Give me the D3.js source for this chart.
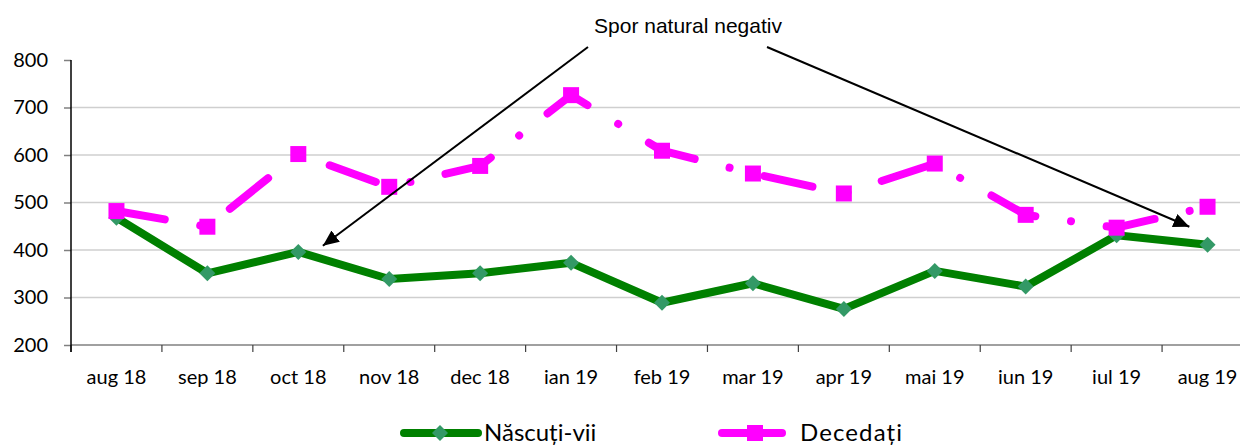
<!DOCTYPE html>
<html>
<head>
<meta charset="utf-8">
<script src="https://cdn.jsdelivr.net/npm/d3@7"></script>
<style>
    body { margin: 0; background: #fff; }
    svg { display: block; }
</style>
</head>
<body>
<div id="chart"></div>
<script>
(function () {
    "use strict";

    // chart data
    const months = ["aug 18", "sep 18", "oct 18", "nov 18", "dec 18", "ian 19", "feb 19",
        "mar 19", "apr 19", "mai 19", "iun 19", "iul 19", "aug 19"];
    const nascutiVii = [468, 351, 396, 339, 351, 373, 289, 330, 276, 356, 323, 431, 411];
    const decedati = [482, 449, 602, 533, 577, 726, 609, 561, 519, 582, 474, 447, 491];
    const yTicks = [200, 300, 400, 500, 600, 700, 800];
    const seriesNames = ["Născuți-vii", "Decedați"];
    const annotationText = "Spor natural negativ";

    const GREEN = "#008000";
    const GREEN_MARKER = "#339966";
    const PINK = "#ff00ff";
    const LABEL_FONT = "Lato, 'Open Sans', sans-serif";

    const width = 1240, height = 445;
    const plot = { left: 71, right: 1253, top: 60, bottom: 345 };

    let svg = d3.select("#chart").append("svg")
        .attr("width", width).attr("height", height);

    let x = d3.scaleBand().domain(months).range([plot.left, plot.right]);
    let y = d3.scaleLinear().domain([200, 800]).range([plot.bottom, plot.top]);
    let cx = m => x(m) + x.bandwidth() / 2;

    // gridlines
    svg.append("g")
        .selectAll("line")
        .data(yTicks.filter(t => t > 200 && t < 800))
        .enter().append("line")
        .attr("x1", plot.left).attr("x2", width)
        .attr("y1", d => y(d)).attr("y2", d => y(d))
        .attr("stroke", "#cfcfcf").attr("stroke-width", 1.5);

    // y axis
    let yAxis = svg.append("g")
        .attr("transform", `translate(${plot.left},0)`)
        .call(d3.axisLeft(y).tickValues(yTicks).tickSize(7).tickPadding(16));
    yAxis.select(".domain").remove();
    yAxis.selectAll(".tick line").attr("stroke", "#808080").attr("stroke-width", 1.5);
    yAxis.selectAll("text")
        .attr("font-family", LABEL_FONT)
        .attr("font-size", 20).attr("fill", "#000");

    // x axis: labels at centres, ticks at band edges
    let xAxis = svg.append("g")
        .attr("transform", `translate(0,${plot.bottom})`)
        .call(d3.axisBottom(x).tickSize(0));
    xAxis.select(".domain").remove();
    xAxis.selectAll("text")
        .attr("dy", null).attr("y", 39)
        .attr("font-family", LABEL_FONT)
        .attr("font-size", 20).attr("fill", "#000");

    svg.append("line")
        .attr("x1", plot.left).attr("x2", width)
        .attr("y1", plot.bottom).attr("y2", plot.bottom)
        .attr("stroke", "#808080").attr("stroke-width", 1.5);

    svg.append("g")
        .selectAll("line")
        .data(months)
        .enter().append("line")
        .attr("x1", d => x(d)).attr("x2", d => x(d))
        .attr("y1", plot.bottom).attr("y2", plot.bottom + 7)
        .attr("stroke", "#404040").attr("stroke-width", 1.2);

    svg.append("line")
        .attr("x1", plot.left).attr("x2", plot.left)
        .attr("y1", plot.top).attr("y2", plot.bottom + 7)
        .attr("stroke", "#000").attr("stroke-width", 1.5);

    let line = d3.line().x((d, i) => cx(months[i])).y(d => y(d));

    // Născuți-vii
    svg.append("path")
        .datum(nascutiVii)
        .attr("d", line)
        .attr("fill", "none")
        .attr("stroke", GREEN).attr("stroke-width", 8)
        .attr("stroke-linejoin", "round");

    svg.append("g")
        .selectAll("path")
        .data(nascutiVii)
        .enter().append("path")
        .attr("d", d3.symbol(d3.symbolSquare, 128))
        .attr("transform", (d, i) => `translate(${cx(months[i])},${y(d)}) rotate(45)`)
        .attr("fill", GREEN_MARKER);

    // Decedați, long dash dot
    svg.append("path")
        .datum(decedati)
        .attr("d", line)
        .attr("fill", "none")
        .attr("stroke", PINK).attr("stroke-width", 8)
        .attr("stroke-linecap", "round")
        .attr("stroke-linejoin", "round")
        .attr("stroke-dasharray", "49,36,0.01,36");

    svg.append("g")
        .selectAll("path")
        .data(decedati)
        .enter().append("path")
        .attr("d", d3.symbol(d3.symbolSquare, 256))
        .attr("transform", (d, i) => `translate(${cx(months[i])},${y(d)})`)
        .attr("fill", PINK);

    // annotation
    svg.append("defs").append("marker")
        .attr("id", "arrow")
        .attr("markerUnits", "userSpaceOnUse")
        .attr("markerWidth", 18).attr("markerHeight", 14)
        .attr("refX", 16).attr("refY", 7)
        .attr("orient", "auto")
        .append("path")
        .attr("d", "M0,0 L16,7 L0,14 Z")
        .attr("fill", "#000");

    svg.append("text")
        .attr("x", 688).attr("y", 33)
        .attr("text-anchor", "middle")
        .attr("font-family", "'Liberation Sans', Arial, sans-serif")
        .attr("font-size", 21)
        .text(annotationText);

    // arrow tips sit at a fraction of a month band and a value
    let arrows = [
        { from: [588, 47], month: "oct 18", frac: 0.77, value: 409 },
        { from: [767, 47], month: "aug 19", frac: 0.3, value: 449 }
    ];
    svg.append("g")
        .selectAll("line")
        .data(arrows)
        .enter().append("line")
        .attr("x1", d => d.from[0]).attr("y1", d => d.from[1])
        .attr("x2", d => x(d.month) + x.bandwidth() * d.frac)
        .attr("y2", d => y(d.value))
        .attr("stroke", "#000").attr("stroke-width", 2)
        .attr("marker-end", "url(#arrow)");

    // legend
    let legend = svg.append("g").attr("transform", "translate(0,433)");

    let g1 = legend.append("g");
    g1.append("line")
        .attr("x1", 404).attr("x2", 478)
        .attr("stroke", GREEN).attr("stroke-width", 8).attr("stroke-linecap", "round");
    g1.append("path")
        .attr("d", d3.symbol(d3.symbolSquare, 128))
        .attr("transform", "translate(440,0) rotate(45)")
        .attr("fill", GREEN_MARKER);
    g1.append("text")
        .attr("x", 484).attr("y", 8)
        .attr("font-family", LABEL_FONT)
        .attr("font-size", 24)
        .text(seriesNames[0]);

    let g2 = legend.append("g");
    g2.append("line")
        .attr("x1", 722).attr("x2", 782)
        .attr("stroke", PINK).attr("stroke-width", 8).attr("stroke-linecap", "round");
    g2.append("path")
        .attr("d", d3.symbol(d3.symbolSquare, 256))
        .attr("transform", "translate(755,0)")
        .attr("fill", PINK);
    g2.append("text")
        .attr("x", 800).attr("y", 8)
        .attr("font-family", LABEL_FONT)
        .attr("font-size", 24)
        .attr("textLength", 102)
        .text(seriesNames[1]);
})();
</script>
</body>
</html>
